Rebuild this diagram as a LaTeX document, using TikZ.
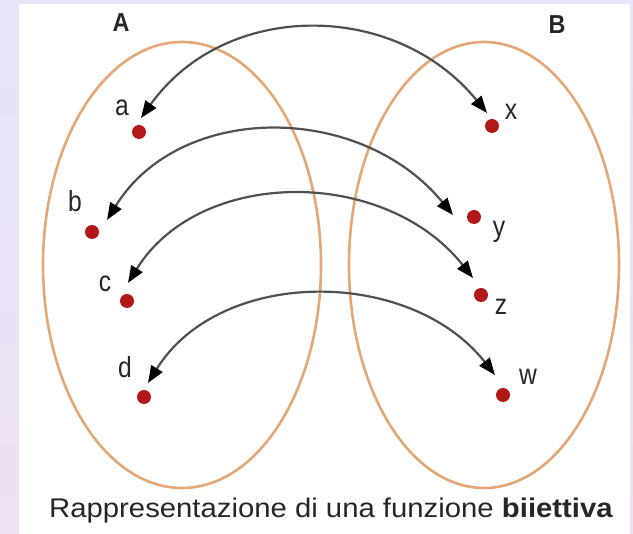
\documentclass[tikz,border=0pt]{standalone}
\usepackage{fontspec}
\setmainfont{Liberation Sans}
\usetikzlibrary{arrows.meta,shapes.geometric}
\definecolor{lavtop}{HTML}{E7E5F9}
\definecolor{lavbot}{HTML}{EEE2F3}
\definecolor{setcol}{RGB}{228,168,118}
\definecolor{dotred}{RGB}{178,24,24}
\definecolor{arcgray}{RGB}{80,80,80}
\begin{document}
\begin{tikzpicture}[x=1pt,y=-1pt,
  setshape/.style={draw=setcol,line width=2.6pt,ellipse,inner sep=0pt},
  dot/.style={circle,fill=dotred,inner sep=0pt,minimum size=14pt},
  lbl/.style={font=\fontsize{29}{29}\selectfont,inner sep=0pt,text=black!85},
  setlbl/.style={font=\fontsize{26}{26}\selectfont\bfseries,inner sep=0pt,text=black!85},
  maparc/.style={draw=arcgray,line width=2.2pt,
    {Triangle[length=17pt,width=13pt,color=black]}-{Triangle[length=17pt,width=13pt,color=black]}}
]
\useasboundingbox (0,0) rectangle (633,534);
\shade[top color=lavtop,bottom color=lavbot] (0,0) rectangle (633,534);
\fill[white] (19,4) rectangle (630,534);

% sets
\node[setshape,minimum width=278pt,minimum height=446pt] (setA) at (182,265) {};
\node[setshape,minimum width=270pt,minimum height=446pt] (setB) at (484,265) {};
\node[setlbl] (lA) at (121,23) {\scalebox{0.9}[1]{A}};
\node[setlbl] (lB) at (557,25) {\scalebox{0.9}[1]{B}};

% elements
\node[dot] (a) at (139,132) {};
\node[dot] (b) at (92,232) {};
\node[dot] (c) at (127,301) {};
\node[dot] (d) at (144,397) {};
\node[dot] (x) at (492,126) {};
\node[dot] (y) at (474,217) {};
\node[dot] (z) at (481,295) {};
\node[dot] (w) at (503,395) {};

\node[lbl] (la) at (122,108) {\scalebox{0.85}[1]{a}};
\node[lbl] (lb) at (75,201) {\scalebox{0.85}[1]{b}};
\node[lbl] (lc) at (105,284) {\scalebox{0.85}[1]{c}};
\node[lbl] (ld) at (125,367) {\scalebox{0.85}[1]{d}};
\node[lbl] (lx) at (511,112) {\scalebox{0.85}[1]{x}};
\node[lbl] (ly) at (499,232) {\scalebox{0.85}[1]{y}};
\node[lbl] (lz) at (501,307) {\scalebox{0.85}[1]{z}};
\node[lbl] (lw) at (528,377) {\scalebox{0.85}[1]{w}};

% arrow tips
\coordinate (ta) at (141,118);
\coordinate (tx) at (487,113);
\coordinate (tb) at (107,220);
\coordinate (ty) at (453,215);
\coordinate (tc) at (128,283);
\coordinate (tz) at (473,278);
\coordinate (td) at (148,383);
\coordinate (tw) at (495,375);

\draw[maparc] (ta) .. controls (225,0) and (395,0) .. (tx);
\draw[maparc] (tb) .. controls (180,102) and (360,102) .. (ty);
\draw[maparc] (tc) .. controls (200,167) and (385,167) .. (tz);
\draw[maparc] (td) .. controls (220,267) and (410,267) .. (tw);

% caption
\node[anchor=base west,inner sep=0pt,font=\fontsize{27}{27}\selectfont,text=black!85] (cap) at (49,518)
  {\scalebox{1.085}[1]{Rappresentazione di una funzione \textbf{biiettiva}}};
\end{tikzpicture}
\end{document}
